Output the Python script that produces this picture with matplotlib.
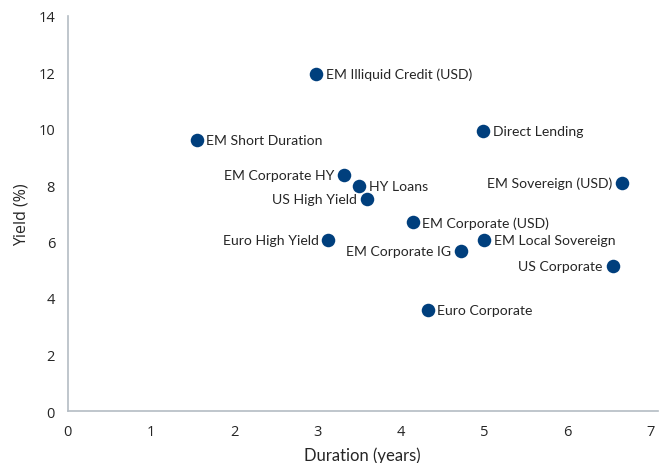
import matplotlib
matplotlib.use("Agg")
import matplotlib.pyplot as plt

names = ["EM Illiquid Credit (USD)", "EM Short Duration", "Direct Lending", "EM Corporate HY",
         "HY Loans", "US High Yield", "EM Sovereign (USD)", "EM Corporate (USD)",
         "Euro High Yield", "EM Local Sovereign", "EM Corporate IG", "US Corporate",
         "Euro Corporate"]
duration = [2.98, 1.55, 4.99, 3.32, 3.50, 3.59, 6.65, 4.14, 3.13, 5.00, 4.72, 6.54, 4.32]
yields = [11.93, 9.59, 9.92, 8.36, 7.98, 7.50, 8.07, 6.68, 6.04, 6.04, 5.67, 5.12, 3.58]
side = ["r", "r", "r", "l", "r", "l", "l", "r", "l", "r", "l", "l", "r"]

xticks = [0, 1, 2, 3, 4, 5, 6, 7]
yticks = [0, 2, 4, 6, 8, 10, 12, 14]

navy = "#003F7D"
spine = "#B4BCC4"
txt = "#262626"

fig = plt.figure(figsize=(6.63, 4.64), dpi=100)
ax = fig.add_axes([67.5/663, 1-412/464, (658-67.5)/663, (412-16.5)/464])
ax.scatter(duration, yields, s=95, color=navy, zorder=3, linewidths=0)
for n, x, y, sd in zip(names, duration, yields, side):
    if sd == "r":
        ax.annotate(n, (x, y), xytext=(7, 0), textcoords="offset points", ha="left", va="center",
                    fontsize=10.1, family=["Lato", "DejaVu Sans"], color=txt)
    else:
        ax.annotate(n, (x, y), xytext=(-7, 0), textcoords="offset points", ha="right", va="center",
                    fontsize=10.1, family=["Lato", "DejaVu Sans"], color=txt)

ax.set_xlim(0, 7.085)
ax.set_ylim(0, 14)
ax.set_xticks(xticks)
ax.set_yticks(yticks)
ax.tick_params(length=0, labelsize=10.5, colors=txt)
ax.tick_params(axis="x", pad=9)
ax.tick_params(axis="y", pad=9)
for lab in ax.get_xticklabels() + ax.get_yticklabels():
    lab.set_family(["Open Sans", "DejaVu Sans"])
for s in ["top", "right"]:
    ax.spines[s].set_visible(False)
for s in ["left", "bottom"]:
    ax.spines[s].set_color(spine)
    ax.spines[s].set_linewidth(1.2)
ax.set_xlabel("Duration (years)", fontsize=12, family=["Lato", "DejaVu Sans"], color=txt, labelpad=6)
ax.set_ylabel("Yield (%)", fontsize=11.5, family=["Open Sans", "DejaVu Sans"], color=txt, labelpad=6)

fig.savefig("out.png", dpi=100)
